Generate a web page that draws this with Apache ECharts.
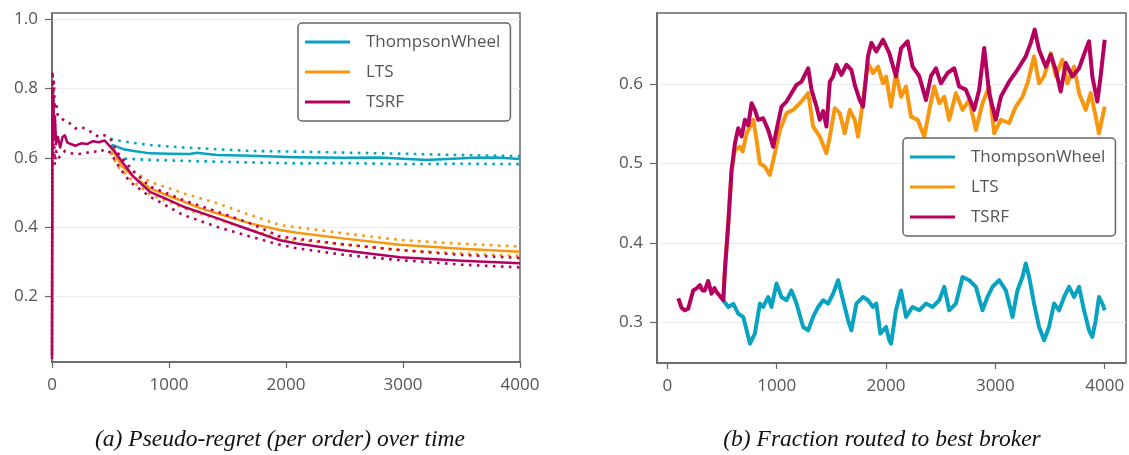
<!DOCTYPE html>
<html>
<head>
<meta charset="utf-8">
<script src="https://cdn.jsdelivr.net/npm/echarts@6/dist/echarts.min.js"></script>
<style>
html,body{margin:0;padding:0;background:#fff;}
#chart{width:1129px;height:455px;}
</style>
</head>
<body>
<div id="chart"></div>
<script>
// ---------- Panel (a): pseudo-regret per order ----------
// warm-up phase (identical for all methods, TSRF drawn on top)
const warmT     = [0, 4, 8, 12, 18, 25, 35, 50, 70, 90, 110, 130, 160, 200, 250, 300, 350, 400, 450, 500];
const warmMean  = [0.03, 0.80, 0.70, 0.78, 0.66, 0.72, 0.64, 0.66, 0.63, 0.66, 0.665, 0.645, 0.64, 0.635, 0.642, 0.64, 0.648, 0.645, 0.65, 0.632];
const warmUpT   = [0, 4, 10, 16, 24, 35, 50, 80, 110, 150, 200, 250, 300, 350, 400, 450, 500];
const warmUp    = [0.03, 0.85, 0.78, 0.82, 0.74, 0.76, 0.72, 0.715, 0.705, 0.70, 0.685, 0.69, 0.68, 0.672, 0.66, 0.665, 0.655];
const warmLo    = [0.02, 0.72, 0.60, 0.68, 0.58, 0.62, 0.60, 0.605, 0.62, 0.615, 0.61, 0.612, 0.615, 0.62, 0.615, 0.625, 0.615];

const twMeanT = [500, 520, 610, 700, 838, 1000, 1179, 1236, 1410, 1695, 2094, 2500, 2800, 3200, 3600, 3800, 4000];
const twMean  = [0.632, 0.637, 0.625, 0.62, 0.613, 0.612, 0.611, 0.615, 0.608, 0.606, 0.602, 0.600, 0.601, 0.594, 0.600, 0.601, 0.597];
const twUpT   = [500, 527, 700, 838, 1123, 1410, 1700, 2094, 2500, 3000, 3500, 4000];
const twUp    = [0.655, 0.652, 0.643, 0.637, 0.630, 0.625, 0.620, 0.618, 0.615, 0.612, 0.608, 0.605];
const twLoT   = [500, 555, 838, 1410, 2094, 2500, 3000, 3500, 4000];
const twLo    = [0.615, 0.599, 0.594, 0.589, 0.584, 0.585, 0.582, 0.583, 0.582];

const ltsMeanT = [500, 600, 695, 838, 1000, 1123, 1265, 1410, 1695, 1949, 2094, 2500, 2974, 3500, 4000];
const ltsMean  = [0.632, 0.575, 0.546, 0.512, 0.49, 0.474, 0.455, 0.44, 0.411, 0.392, 0.384, 0.367, 0.349, 0.338, 0.329];
const ltsUpT   = [500, 600, 700, 838, 1123, 1410, 1695, 1949, 2500, 2974, 3500, 4000];
const ltsUp    = [0.655, 0.59, 0.56, 0.531, 0.498, 0.469, 0.435, 0.406, 0.382, 0.363, 0.352, 0.344];
const ltsLoT   = [500, 563, 700, 838, 1123, 1410, 1695, 1949, 2500, 2974, 3500, 4000];
const ltsLo    = [0.615, 0.575, 0.53, 0.495, 0.455, 0.423, 0.392, 0.368, 0.35, 0.334, 0.324, 0.317];

const tsrfMeanT = [527, 610, 695, 838, 1000, 1123, 1410, 1695, 1949, 2094, 2500, 2974, 3500, 4000];
const tsrfMean  = [0.623, 0.584, 0.546, 0.502, 0.478, 0.459, 0.426, 0.392, 0.362, 0.353, 0.333, 0.313, 0.303, 0.296];
const tsrfUpT   = [560, 700, 838, 1123, 1410, 1695, 1949, 2500, 2974, 3500, 4000];
const tsrfUp    = [0.615, 0.56, 0.517, 0.478, 0.445, 0.411, 0.373, 0.35, 0.334, 0.32, 0.311];
const tsrfLoT   = [580, 666, 838, 1123, 1410, 1695, 1949, 2094, 2500, 2974, 3500, 4000];
const tsrfLo    = [0.57, 0.531, 0.488, 0.435, 0.401, 0.373, 0.349, 0.339, 0.32, 0.305, 0.292, 0.284];

// ---------- Panel (b): fraction routed to best broker ----------
const fWarmT = [100, 107, 130, 160, 190, 236, 270, 297, 320, 343, 373, 404, 430, 450, 480, 511];
const fWarm  = [0.33, 0.3285, 0.318, 0.315, 0.317, 0.340, 0.343, 0.3466, 0.340, 0.340, 0.352, 0.336, 0.343, 0.338, 0.333, 0.3277];

const fTsrfT = [526, 557, 587, 618, 648, 679, 709, 740, 770, 800, 831, 876, 922, 968, 998, 1044, 1090, 1135, 1181, 1227, 1288, 1318, 1364, 1394, 1425, 1455, 1486, 1516, 1546, 1592, 1638, 1683, 1714, 1759, 1790, 1835, 1866, 1911, 1972, 2030, 2091, 2137, 2197, 2243, 2304, 2365, 2411, 2456, 2502, 2563, 2624, 2669, 2730, 2806, 2852, 2898, 2943, 3004, 3050, 3126, 3202, 3278, 3324, 3360, 3400, 3461, 3507, 3552, 3598, 3644, 3705, 3766, 3826, 3857, 3887, 3933, 3963, 4000];
const fTsrf  = [0.3655, 0.4245, 0.4918, 0.5255, 0.5444, 0.534, 0.555, 0.548, 0.576, 0.5676, 0.555, 0.557, 0.5423, 0.521, 0.542, 0.5717, 0.578, 0.5886, 0.599, 0.603, 0.620, 0.593, 0.5717, 0.555, 0.566, 0.5465, 0.603, 0.6096, 0.6244, 0.6117, 0.6244, 0.618, 0.599, 0.580, 0.5717, 0.635, 0.652, 0.641, 0.656, 0.639, 0.6096, 0.645, 0.654, 0.622, 0.61, 0.580, 0.61, 0.620, 0.601, 0.614, 0.620, 0.597, 0.593, 0.5676, 0.593, 0.6455, 0.5886, 0.555, 0.584, 0.603, 0.618, 0.635, 0.652, 0.6686, 0.643, 0.622, 0.637, 0.618, 0.5907, 0.6265, 0.6096, 0.620, 0.643, 0.654, 0.6096, 0.578, 0.61, 0.656];

const fLtsT = [511, 526, 557, 587, 618, 664, 688, 725, 786, 816, 846, 892, 937, 983, 1029, 1090, 1151, 1212, 1288, 1333, 1394, 1455, 1486, 1531, 1577, 1622, 1668, 1714, 1744, 1790, 1835, 1881, 1927, 1972, 2000, 2046, 2091, 2137, 2183, 2228, 2289, 2350, 2396, 2441, 2487, 2533, 2578, 2639, 2700, 2761, 2822, 2882, 2943, 2989, 3050, 3126, 3187, 3248, 3294, 3354, 3400, 3446, 3507, 3552, 3613, 3659, 3720, 3766, 3826, 3872, 3918, 3948, 4000];
const fLts  = [0.3277, 0.3655, 0.4245, 0.49, 0.517, 0.521, 0.515, 0.538, 0.555, 0.5297, 0.500, 0.496, 0.4855, 0.5129, 0.542, 0.5634, 0.5676, 0.576, 0.5886, 0.5465, 0.534, 0.513, 0.534, 0.5697, 0.5634, 0.538, 0.5676, 0.555, 0.534, 0.580, 0.6265, 0.614, 0.622, 0.601, 0.6096, 0.5717, 0.614, 0.584, 0.597, 0.559, 0.555, 0.534, 0.5676, 0.597, 0.576, 0.584, 0.555, 0.5886, 0.5676, 0.580, 0.5423, 0.576, 0.597, 0.538, 0.555, 0.551, 0.5717, 0.584, 0.601, 0.635, 0.601, 0.61, 0.639, 0.61, 0.6307, 0.601, 0.622, 0.5886, 0.5676, 0.5886, 0.559, 0.538, 0.5717];

const fTwT = [511, 557, 603, 648, 694, 725, 755, 800, 846, 876, 922, 952, 998, 1044, 1090, 1135, 1181, 1242, 1288, 1333, 1379, 1425, 1470, 1516, 1562, 1607, 1653, 1683, 1729, 1790, 1835, 1881, 1911, 1948, 2000, 2030, 2046, 2091, 2137, 2183, 2243, 2304, 2365, 2426, 2487, 2533, 2578, 2639, 2700, 2761, 2822, 2882, 2928, 2974, 3035, 3096, 3157, 3202, 3248, 3278, 3309, 3354, 3400, 3446, 3491, 3537, 3583, 3629, 3674, 3720, 3766, 3811, 3857, 3887, 3918, 3948, 3979, 4000];
const fTw  = [0.3277, 0.3192, 0.323, 0.3108, 0.3066, 0.2898, 0.273, 0.2856, 0.3235, 0.3192, 0.3318, 0.3192, 0.3487, 0.3318, 0.3277, 0.340, 0.3235, 0.294, 0.2898, 0.3066, 0.3192, 0.3277, 0.3235, 0.336, 0.3529, 0.3277, 0.3024, 0.2898, 0.3235, 0.3318, 0.3277, 0.3192, 0.3235, 0.2856, 0.294, 0.2772, 0.273, 0.315, 0.340, 0.3066, 0.3192, 0.315, 0.3235, 0.3192, 0.3277, 0.3445, 0.315, 0.3235, 0.357, 0.3529, 0.3445, 0.315, 0.3318, 0.3445, 0.3529, 0.340, 0.3066, 0.340, 0.357, 0.374, 0.357, 0.3235, 0.294, 0.2772, 0.294, 0.3235, 0.315, 0.3318, 0.3445, 0.3318, 0.3445, 0.315, 0.2898, 0.2814, 0.3024, 0.3318, 0.3235, 0.315];

const xTicks = [0, 1000, 2000, 3000, 4000];
const yTicksA = [0.2, 0.4, 0.6, 0.8, 1.0];
const yTicksB = [0.3, 0.4, 0.5, 0.6];
const names = ['ThompsonWheel', 'LTS', 'TSRF'];
const captions = ['(a) Pseudo-regret (per order) over time', '(b) Fraction routed to best broker'];

// ---------- build ----------
const C = { ThompsonWheel: '#07a3c0', LTS: '#f7960f', TSRF: '#b4005f' };
const zip = (t, v) => t.map((x, i) => [x, v[i]]);
const FONT = 'Open Sans';

function lineSeries(name, data, grid, color, width, dotted, z) {
  return {
    type: 'line', name: name, xAxisIndex: grid, yAxisIndex: grid,
    data: data, symbol: 'none', animation: false, z: z,
    lineStyle: { color: color, width: width, type: dotted ? [2.6, 5.4] : 'solid', cap: 'butt', join: 'round' },
    itemStyle: { color: color }
  };
}

const series = [
  // panel a
  lineSeries('ThompsonWheel', zip(twMeanT, twMean), 0, C.ThompsonWheel, 2.5, false, 2),
  lineSeries('TW_up', zip(twUpT, twUp), 0, C.ThompsonWheel, 2.6, true, 2),
  lineSeries('TW_lo', zip(twLoT, twLo), 0, C.ThompsonWheel, 2.6, true, 2),
  lineSeries('LTS', zip(ltsMeanT, ltsMean), 0, C.LTS, 2.5, false, 3),
  lineSeries('LTS_up', zip(ltsUpT, ltsUp), 0, C.LTS, 2.6, true, 3),
  lineSeries('LTS_lo', zip(ltsLoT, ltsLo), 0, C.LTS, 2.6, true, 3),
  lineSeries('TSRF', zip(warmT.concat(tsrfMeanT), warmMean.concat(tsrfMean)), 0, C.TSRF, 2.5, false, 4),
  lineSeries('TSRF_up', zip(warmUpT.concat(tsrfUpT), warmUp.concat(tsrfUp)), 0, C.TSRF, 2.6, true, 4),
  lineSeries('TSRF_lo', zip(warmUpT.concat(tsrfLoT), warmLo.concat(tsrfLo)), 0, C.TSRF, 2.6, true, 4),
  // panel b
  lineSeries('ThompsonWheel', zip(fTwT, fTw), 1, C.ThompsonWheel, 4, false, 2),
  lineSeries('LTS', zip(fLtsT, fLts), 1, C.LTS, 4, false, 3),
  lineSeries('TSRF', zip(fWarmT.concat(fTsrfT), fWarm.concat(fTsrf)), 1, C.TSRF, 4, false, 4)
];

function xAxis(grid, min, max) {
  return {
    type: 'value', gridIndex: grid, min: min, max: max,
    axisLine: { show: true, onZero: false, lineStyle: { color: '#666', width: 1.5 } },
    axisTick: { show: true, length: 6, customValues: xTicks, lineStyle: { color: '#666', width: 1.2 } },
    axisLabel: { customValues: xTicks, color: '#555', fontSize: 17, fontFamily: FONT, margin: 15,
      formatter: v => String(Math.round(v)) },
    splitLine: { show: false }
  };
}
function yAxis(grid, min, max, ticks, dec) {
  return {
    type: 'value', gridIndex: grid, min: min, max: max,
    axisLine: { show: true, onZero: false, lineStyle: { color: '#666', width: 1.5 } },
    axisTick: { show: true, length: 7, customValues: ticks, lineStyle: { color: '#666', width: 1.2 } },
    axisLabel: { customValues: ticks, color: '#555', fontSize: 17, fontFamily: FONT, margin: 14,
      formatter: v => v.toFixed(dec) },
    splitLine: { show: true, lineStyle: { color: '#ececec', width: 1 } }
  };
}
function legend(left, top) {
  return {
    data: names, orient: 'vertical', left: left, top: top,
    icon: 'rect', itemWidth: 45, itemHeight: 3, itemGap: 10,
    padding: [9, 10, 9, 7],
    backgroundColor: '#fff', borderColor: '#666', borderWidth: 1.5, borderRadius: 4,
    textStyle: { color: '#555', fontSize: 17, fontFamily: FONT, lineHeight: 20, padding: [0, 0, 0, 11] }
  };
}

const capFont = 'italic 23.5px "Liberation Serif"';
const option = {
  backgroundColor: '#fff',
  animation: false,
  grid: [
    { left: 52, top: 13, width: 468, height: 349, show: true, borderColor: '#666', borderWidth: 1.5, backgroundColor: 'transparent' },
    { left: 657, top: 13, width: 469, height: 350, show: true, borderColor: '#666', borderWidth: 1.5, backgroundColor: 'transparent' }
  ],
  xAxis: [xAxis(0, 0, 4000), xAxis(1, -95, 4195)],
  yAxis: [yAxis(0, 0.011, 1.018, yTicksA, 1), yAxis(1, 0.2486, 0.6896, yTicksB, 1)],
  legend: [legend(298, 23), legend(903, 138)],
  series: series,
  graphic: [
    { type: 'text', x: 280, y: 440, style: { text: captions[0], align: 'center', verticalAlign: 'middle', font: capFont, fill: '#111' } },
    { type: 'text', x: 882, y: 440, style: { text: captions[1], align: 'center', verticalAlign: 'middle', font: capFont, fill: '#111' } }
  ]
};

const chart = echarts.init(document.getElementById('chart'), null, { renderer: 'canvas' });
chart.setOption(option);
</script>
</body>
</html>
